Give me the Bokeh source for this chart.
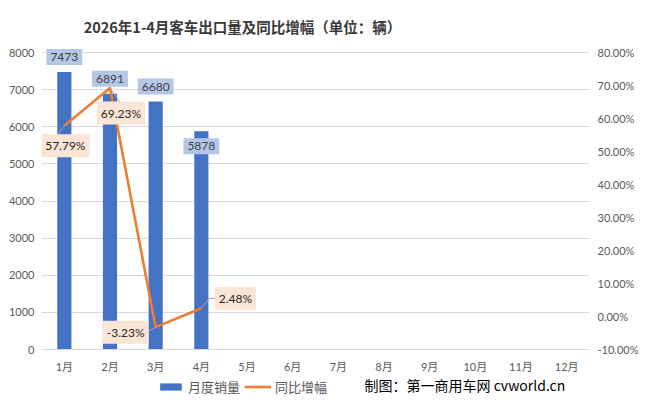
from bokeh.plotting import figure
from bokeh.models import (Range1d, FactorRange, LinearAxis, FixedTicker, PrintfTickFormatter,
                          Label, Legend, LegendItem, ColumnDataSource)
from bokeh.embed import file_html
from bokeh.resources import INLINE

title_text = "2026年1-4月客车出口量及同比增幅（单位：辆）"
months = ["1月", "2月", "3月", "4月", "5月", "6月", "7月", "8月", "9月", "10月", "11月", "12月"]
sales = [7473, 6891, 6680, 5878]
growth = [57.79, 69.23, -3.23, 2.48]
left_ticks = [0, 1000, 2000, 3000, 4000, 5000, 6000, 7000, 8000]
right_ticks = [-10, 0, 10, 20, 30, 40, 50, 60, 70, 80]
legend_labels = ["月度销量", "同比增幅"]
source_text = "制图：第一商用车网 cvworld.cn"

# styles / layout
BLUE = "#4472C4"
ORANGE = "#ED7D31"
AXIS_TXT = "#595959"
GRID = "#D9D9D9"
NUM_FONT = "Lato, Noto Sans CJK SC"
CJK_FONT = "Noto Sans CJK SC"
W, H = 648, 396
PAD_L, PAD_R = 41, 59           # side space for the two value axes
AREA_TOP = 52                   # px between frame top and the 8000 line
AREA_H = 297                    # px between the 8000 and 0 lines
AREA_BOTTOM = H - AREA_TOP - AREA_H
FRAME_W = W - PAD_L - PAD_R

lmin, lmax = left_ticks[0], left_ticks[-1]
rmin, rmax = right_ticks[0], right_ticks[-1]
lppx = (lmax - lmin) / AREA_H
rppx = (rmax - rmin) / AREA_H

p = figure(width=W, height=H, x_range=FactorRange(*months),
           y_range=Range1d(lmin - AREA_BOTTOM * lppx, lmax + AREA_TOP * lppx),
           output_backend="svg", toolbar_location=None,
           min_border_left=PAD_L, min_border_right=PAD_R, min_border_top=0, min_border_bottom=0)
p.outline_line_color = None
p.background_fill_color = "white"
p.border_fill_color = "white"
p.xgrid.visible = False
p.ygrid.grid_line_color = GRID
p.ygrid.grid_line_width = 1

p.yaxis.ticker = FixedTicker(ticks=left_ticks)
p.yaxis.axis_line_color = None
p.yaxis.major_tick_line_color = None
p.yaxis.minor_tick_line_color = None
p.yaxis.major_tick_out = 0
p.yaxis.major_tick_in = 0
p.yaxis.major_label_text_color = AXIS_TXT
p.yaxis.major_label_text_font = NUM_FONT
p.yaxis.major_label_text_font_size = "11px"
p.yaxis.major_label_standoff = 7

p.xaxis.fixed_location = lmin
p.xaxis.axis_line_color = GRID
p.xaxis.major_tick_line_color = None
p.xaxis.minor_tick_line_color = None
p.xaxis.major_tick_out = 0
p.xaxis.major_tick_in = 0
p.xaxis.major_label_text_color = AXIS_TXT
p.xaxis.major_label_text_font = NUM_FONT
p.xaxis.major_label_text_font_size = "11px"
p.xaxis.major_label_standoff = 10

p.extra_y_ranges = {"pct": Range1d(rmin - AREA_BOTTOM * rppx, rmax + AREA_TOP * rppx)}
right = LinearAxis(y_range_name="pct", ticker=FixedTicker(ticks=right_ticks),
                   formatter=PrintfTickFormatter(format="%.2f%%"))
right.axis_line_color = None
right.major_tick_line_color = None
right.minor_tick_line_color = None
right.major_tick_out = 0
right.major_tick_in = 0
right.major_label_text_color = AXIS_TXT
right.major_label_text_font = NUM_FONT
right.major_label_text_font_size = "11px"
right.major_label_standoff = 8
p.add_layout(right, "right")

src = ColumnDataSource(dict(month=months[:len(sales)], sales=sales, growth=growth))
bars = p.vbar(x="month", top="sales", width=0.31, source=src, fill_color=BLUE, line_color=None)
line = p.line(x="month", y="growth", source=src, y_range_name="pct",
              line_color=ORANGE, line_width=2.6, line_join="round")

# leader lines (pixel offsets from the point: dx right, dy up)
px_cat = FRAME_W / len(months)
leaders = [[(0, 0), (-7, -9)], [(0, 0), (10, -14)], [(0, 0), (-9, -5)], [(0, 0), (8, 10), (14, 10)]]
xs, ys = [], []
for i, (g, pts) in enumerate(zip(growth, leaders)):
    xs.append([i + 0.5 + dx / px_cat for dx, dy in pts])
    ys.append([g + dy * rppx for dx, dy in pts])
p.multi_line(xs=xs, ys=ys, y_range_name="pct", line_color="#A6A6A6", line_width=1)

# data labels
bar_offsets = [15, 15, 15, -15]
for i, (v, dy) in enumerate(zip(sales, bar_offsets)):
    p.add_layout(Label(x=i + 0.5, y=v, y_offset=dy, text=str(v),
                       text_font=NUM_FONT, text_font_size="12px", text_color="#404040",
                       text_align="center", text_baseline="middle",
                       background_fill_color="#B4C7E7", padding=4))

growth_offsets = [(1, -20), (11, -25), (-30, -5), (34, 10)]
for i, (g, (dx, dy)) in enumerate(zip(growth, growth_offsets)):
    p.add_layout(Label(x=i + 0.5, y=g, y_range_name="pct", x_offset=dx, y_offset=dy,
                       text=f"{g:.2f}%",
                       text_font=NUM_FONT, text_font_size="12px", text_color="#262626",
                       text_align="center", text_baseline="middle",
                       background_fill_color="#FBE5D6", padding=4))

# title and source (screen px from the frame's bottom-left corner)
p.add_layout(Label(x=201, y=H - 26, x_units="screen", y_units="screen", text=title_text,
                   text_font=CJK_FONT, text_font_style="bold", text_font_size="14.5px",
                   text_color="#3A3A3A", text_align="center", text_baseline="middle"))
p.add_layout(Label(x=323, y=AREA_BOTTOM - 35, x_units="screen", y_units="screen", text=source_text,
                   text_font=CJK_FONT, text_font_size="14px", text_color="#000000",
                   text_align="left", text_baseline="middle"))

legend = Legend(items=[LegendItem(label=legend_labels[0], renderers=[bars]),
                       LegendItem(label=legend_labels[1], renderers=[line])],
                location=(116, AREA_BOTTOM - 47), orientation="horizontal",
                background_fill_alpha=0, border_line_color=None, padding=0, margin=0,
                spacing=4, label_standoff=4, glyph_width=27, glyph_height=9, label_height=14,
                label_text_font=CJK_FONT, label_text_font_size="13px", label_text_color=AXIS_TXT)
p.add_layout(legend)

open("out.html", "w").write(file_html(p, INLINE))
